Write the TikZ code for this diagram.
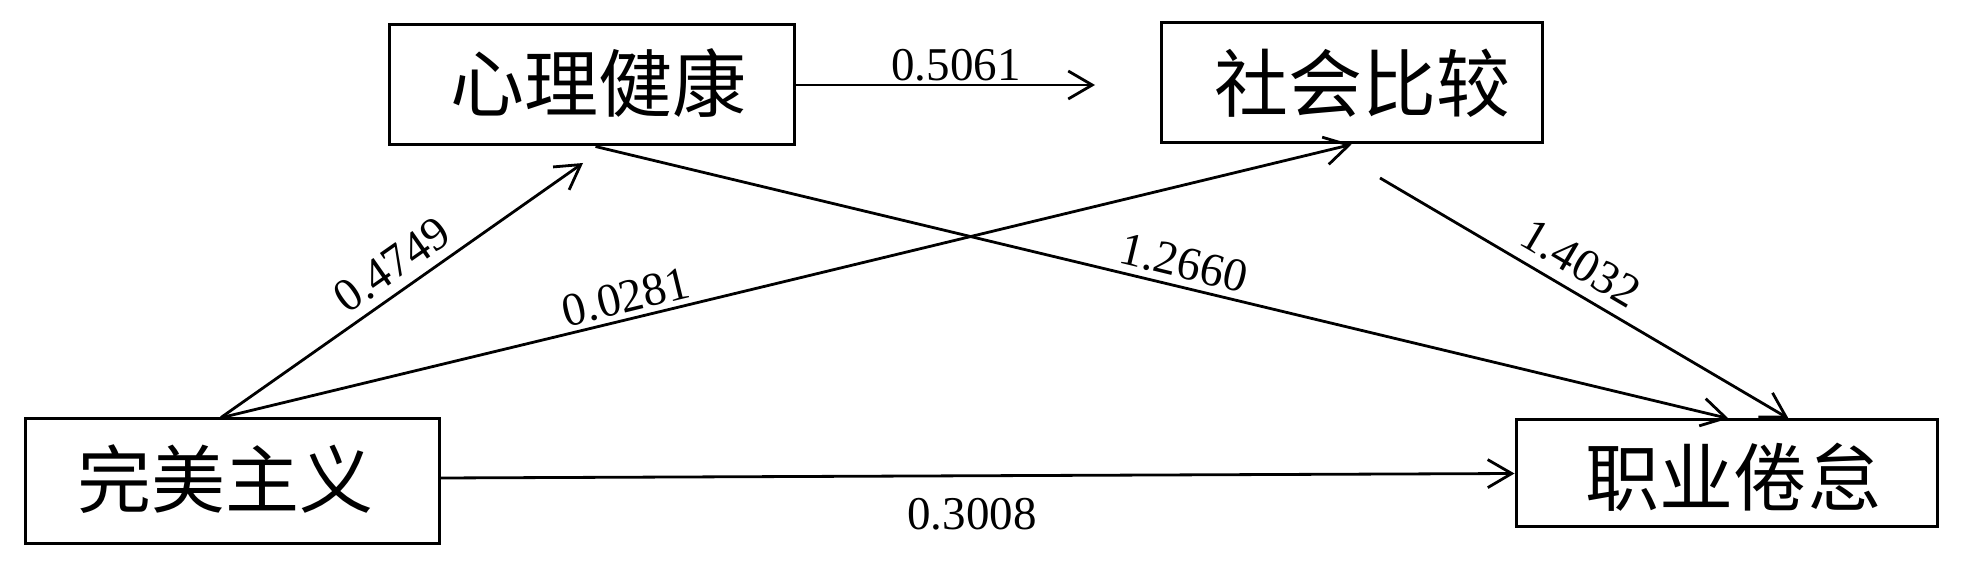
\documentclass[tikz,border=0pt]{standalone}
\usepackage{fontspec}
\setmainfont{Liberation Serif}
\newfontfamily\cjk{Noto Sans CJK SC}
\usetikzlibrary{arrows.meta}
\begin{document}
\begin{tikzpicture}[x=0.5pt,y=-0.5pt,
  box/.style={draw, line width=1.5pt, inner sep=0pt},
  cjklab/.style={font=\cjk\fontsize{37}{40}\selectfont, inner sep=0pt},
  num/.style={font=\fontsize{23.5}{28}\selectfont, inner sep=0pt},
  arr/.style={line width=1.4pt, -{Straight Barb[length=12pt,width=14pt,line width=1.4pt]}}]
\useasboundingbox (0,0) rectangle (1967,571);
\node[box, minimum width=202.5pt, minimum height=60pt,
  label={[cjklab,xshift=3.5pt,yshift=1pt]center:心理健康}] (xl) at (591.5,85) {};
\node[box, minimum width=190.5pt, minimum height=60pt,
  label={[cjklab,xshift=5.5pt]center:社会比较}] (sh) at (1351.5,83) {};
\node[box, minimum width=207pt, minimum height=62.5pt,
  label={[cjklab,xshift=-3.5pt,yshift=1pt]center:完美主义}] (wm) at (232,481.5) {};
\node[box, minimum width=210.5pt, minimum height=53.5pt,
  label={[cjklab,xshift=3.5pt,yshift=-2pt]center:职业倦怠}] (zy) at (1726.5,473.5) {};
\coordinate (t1) at (1095,85);
\coordinate (t2) at (583,163);
\coordinate (s1) at (1380,178);
\draw[arr] (xl.east) -- (t1);
\draw[arr] ([xshift=-5.5pt]wm.north) -- (t2);
\draw[arr] ([xshift=-5pt]wm.north) -- (sh.south);
\draw[arr] ([xshift=2pt]xl.south) -- ([xshift=1pt]zy.north);
\draw[arr] (s1) -- ([xshift=31pt]zy.north);
\draw[arr] ([yshift=1.75pt]wm.east) -- (zy.west);
\node[num] (l1) at (956,65) {0.5061};
\node[num, rotate=35] (l2) at (392,265) {0.4749};
\node[num, rotate=13.7] (l3) at (626,297) {0.0281};
\node[num, rotate=-13.6] (l4) at (1184,263) {1.2660};
\node[num, rotate=-30.5] (l5) at (1581,263) {1.4032};
\node[num] (l6) at (972,514) {0.3008};
\end{tikzpicture}
\end{document}
